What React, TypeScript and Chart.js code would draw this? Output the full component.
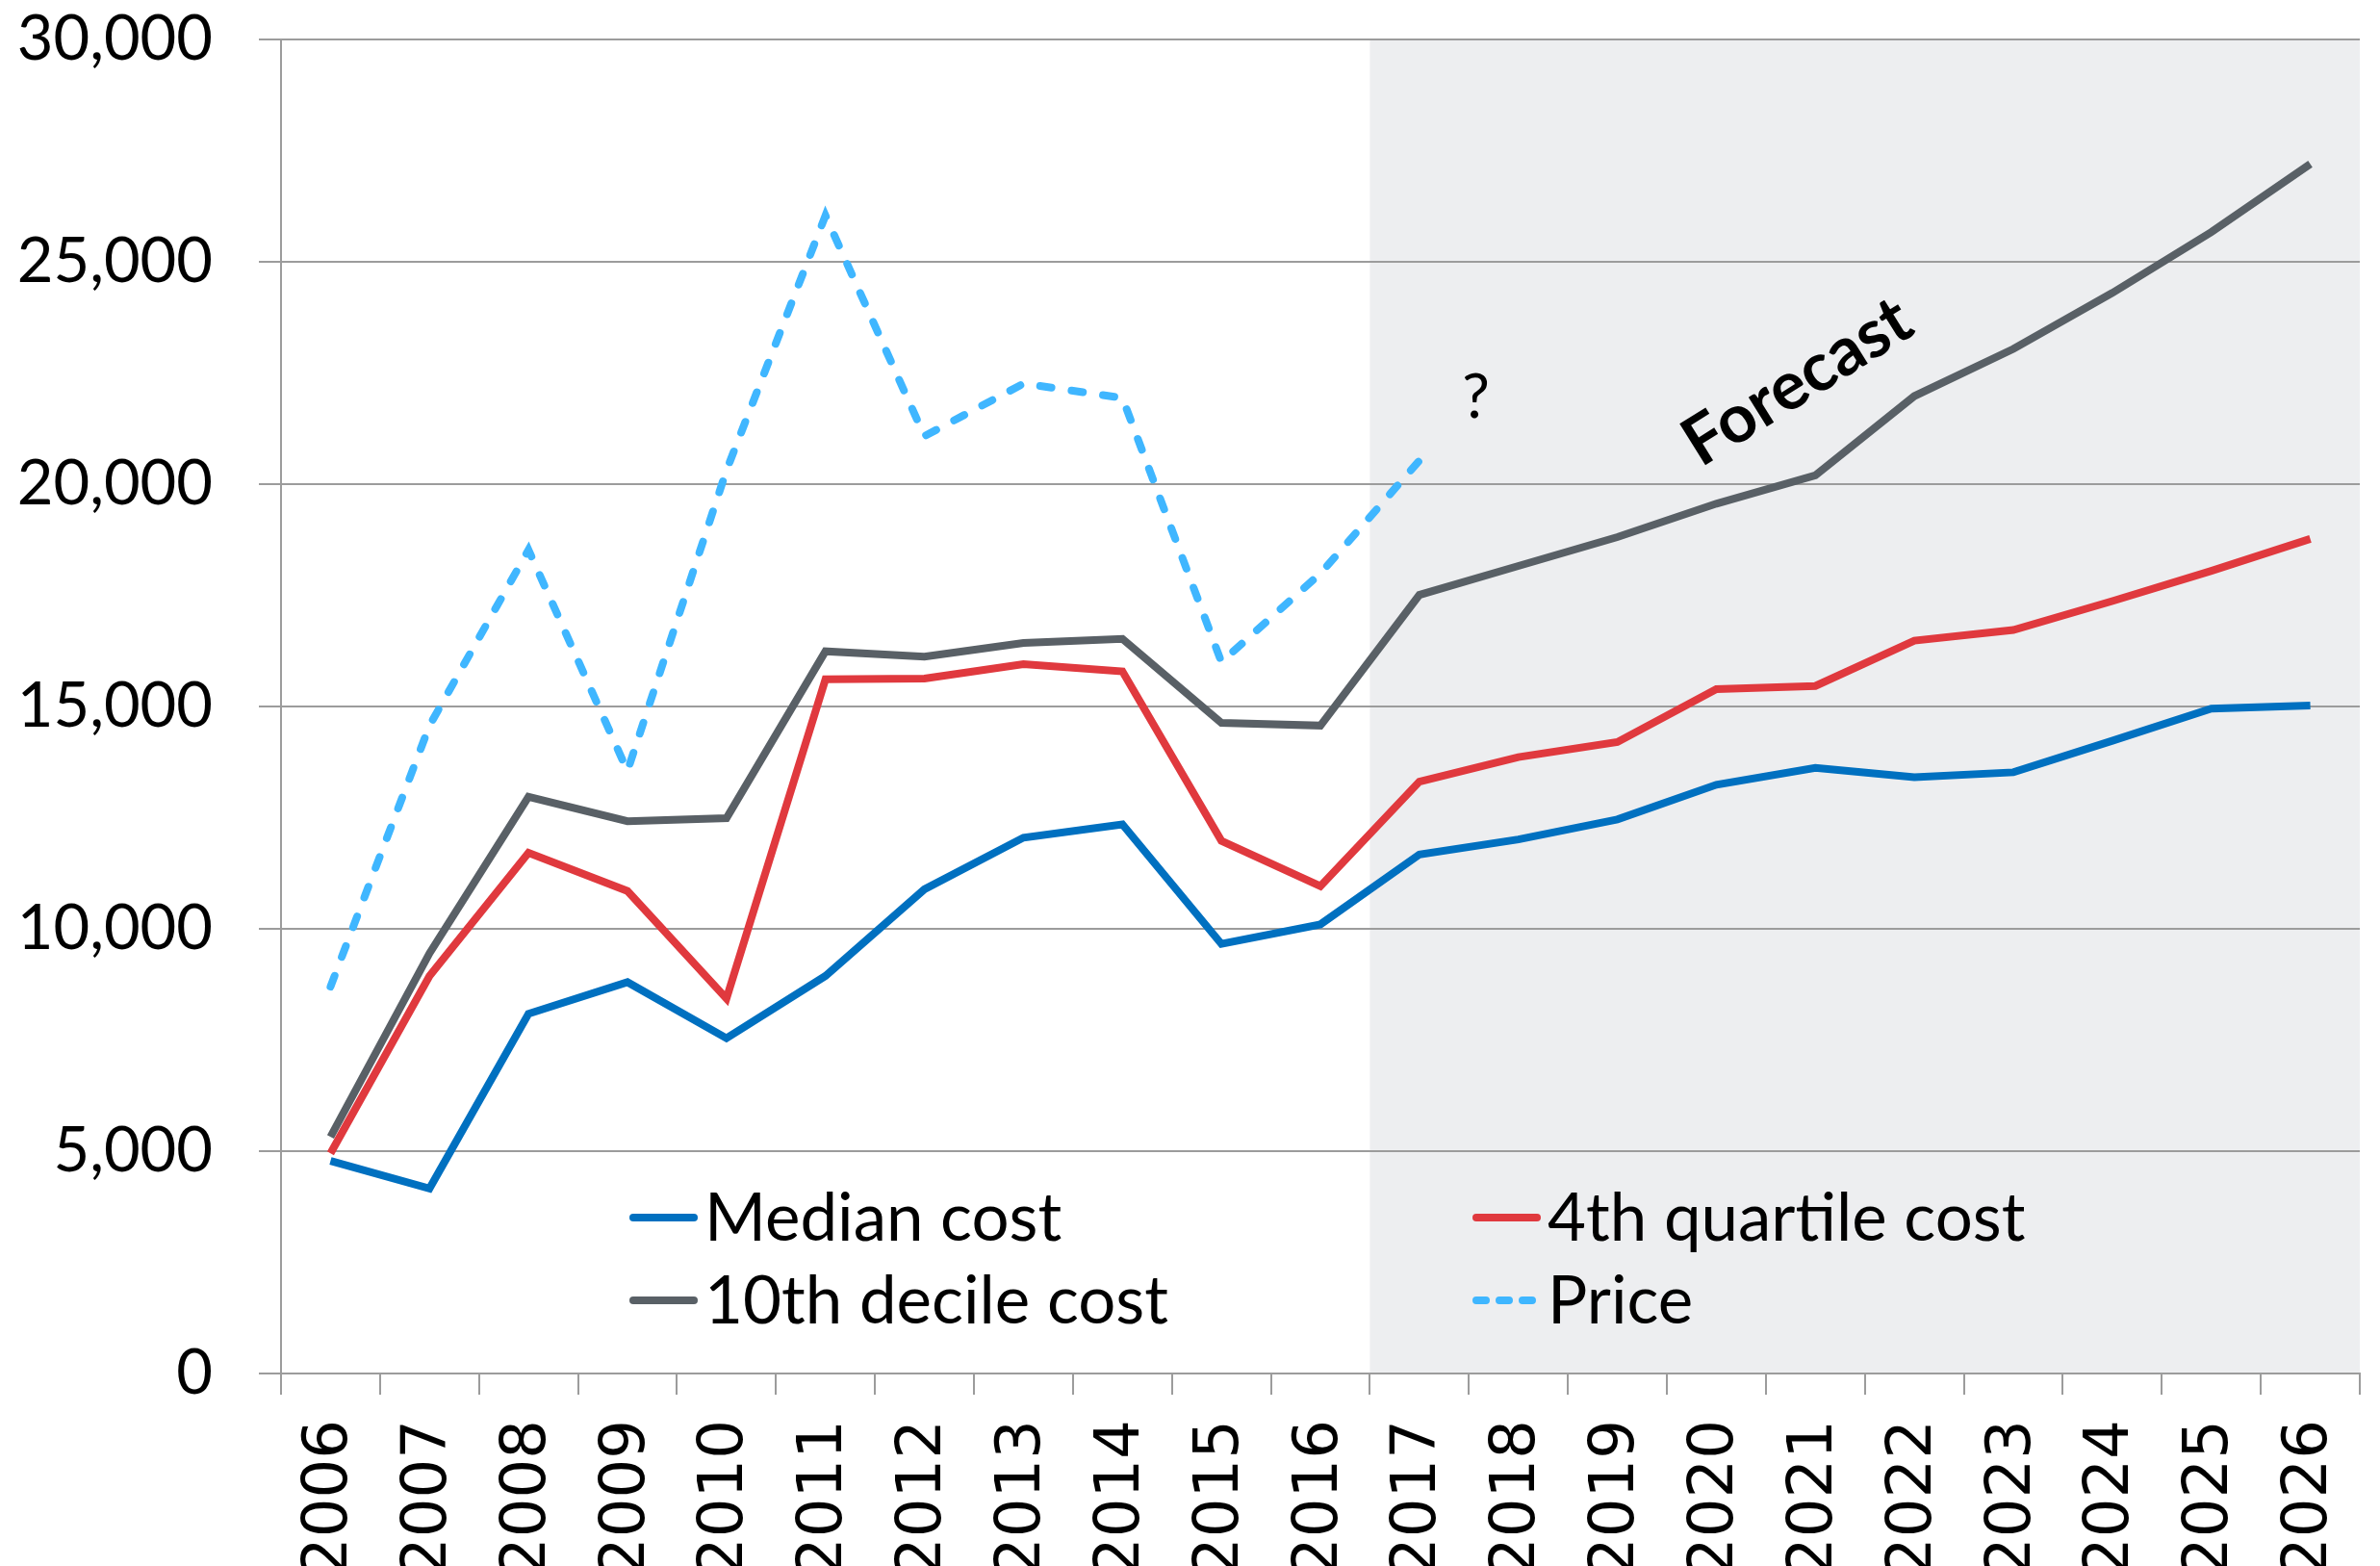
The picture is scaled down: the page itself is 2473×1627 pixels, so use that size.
import React, { useEffect, useRef } from 'react';
import { Chart, registerables } from 'chart.js';

Chart.register(...registerables);

const years = ['2006', '2007', '2008', '2009', '2010', '2011', '2012', '2013', '2014', '2015', '2016',
  '2017', '2018', '2019', '2020', '2021', '2022', '2023', '2024', '2025', '2026'];

const medianCost = [4780, 4160, 8090, 8800, 7540, 8940, 10890, 12050, 12350, 9660, 10100,
  11670, 12010, 12460, 13240, 13620, 13410, 13520, 14230, 14950, 15020];

const quartile4Cost = [4950, 8940, 11710, 10850, 8430, 15610, 15630, 15950, 15790, 11980, 10960,
  13310, 13860, 14200, 15390, 15460, 16480, 16720, 17370, 18050, 18770];

const decile10Cost = [5320, 9450, 12970, 12420, 12490, 16240, 16120, 16430, 16520, 14630, 14570,
  17510, 18160, 18810, 19560, 20200, 21980, 23040, 24300, 25670, 27200];

const price: (number | null)[] = [8700, 14570, 18520, 13550, 20310, 26040, 21080, 22260, 21940, 16000, 17990,
  20530, null, null, null, null, null, null, null, null, null];

const seriesNames = ['Median cost', '4th quartile cost', '10th decile cost', 'Price'];
const forecastStartIndex = 11;
const yTicks = [0, 5000, 10000, 15000, 20000, 25000, 30000];

const COLORS = {
  median: '#0070C0',
  q4: '#E0393E',
  d10: '#596066',
  price: '#3FB6FF',
  grid: '#9C9C9C',
  shade: '#EDEEF0',
};

const PRICE_DASH = [12, 21];

export default function App() {
  const ref = useRef<HTMLCanvasElement | null>(null);

  useEffect(() => {
    document.body.style.margin = '0';
    document.body.style.overflow = 'hidden';

    const shadePlugin = {
      id: 'forecastShade',
      beforeDraw(chart: any) {
        const { ctx, chartArea, scales } = chart;
        const xs = scales.x;
        const half = (xs.getPixelForValue(1) - xs.getPixelForValue(0)) / 2;
        const x0 = xs.getPixelForValue(forecastStartIndex) - half;
        ctx.save();
        ctx.fillStyle = COLORS.shade;
        ctx.fillRect(x0, chartArea.top, chartArea.right - x0, chartArea.bottom - chartArea.top);
        ctx.restore();
      },
    };

    const annotationPlugin = {
      id: 'annotations',
      afterDraw(chart: any) {
        const { ctx, scales } = chart;
        const xs = scales.x;
        const ys = scales.y;
        const step = xs.getPixelForValue(1) - xs.getPixelForValue(0);
        ctx.save();
        ctx.fillStyle = '#000';
        ctx.font = 'bold 70px Lato';
        ctx.textAlign = 'center';
        ctx.textBaseline = 'middle';
        ctx.translate(xs.getPixelForValue(14) + 0.82 * step, ys.getPixelForValue(22300));
        ctx.rotate(-32 * Math.PI / 180);
        ctx.fillText('Forecast', 0, 0);
        ctx.restore();

        ctx.save();
        ctx.fillStyle = '#000';
        ctx.font = '64px Lato';
        ctx.textAlign = 'center';
        ctx.textBaseline = 'middle';
        ctx.fillText('?', xs.getPixelForValue(11) + 0.57 * step, ys.getPixelForValue(21950));
        ctx.restore();

        // Legend (2 x 2, inside the plot)
        const ds = chart.data.datasets;
        const cols = [654, 1530];
        const rows = [1265, 1351];
        ds.forEach((d: any, k: number) => {
          const x = cols[k % 2];
          const y = rows[Math.floor(k / 2)];
          ctx.save();
          ctx.strokeStyle = d.borderColor;
          ctx.lineWidth = 8;
          ctx.lineCap = 'round';
          ctx.setLineDash(d.borderDash ? [10, 14] : []);
          ctx.beginPath();
          ctx.moveTo(x + 4, y);
          ctx.lineTo(x + 67, y);
          ctx.stroke();
          ctx.setLineDash([]);
          ctx.fillStyle = '#000';
          ctx.font = '69px Lato';
          ctx.textAlign = 'left';
          ctx.textBaseline = 'middle';
          ctx.fillText(d.label, x + 78, y + 2);
          ctx.restore();
        });
      },
    };

    const chart = new Chart(ref.current as HTMLCanvasElement, {
      type: 'line',
      data: {
        labels: years,
        datasets: [
          { label: seriesNames[0], data: medianCost, borderColor: COLORS.median, backgroundColor: COLORS.median, borderWidth: 8, pointRadius: 0, tension: 0 },
          { label: seriesNames[1], data: quartile4Cost, borderColor: COLORS.q4, backgroundColor: COLORS.q4, borderWidth: 8, pointRadius: 0, tension: 0 },
          { label: seriesNames[2], data: decile10Cost, borderColor: COLORS.d10, backgroundColor: COLORS.d10, borderWidth: 8, pointRadius: 0, tension: 0 },
          { label: seriesNames[3], data: price, borderColor: COLORS.price, backgroundColor: COLORS.price, borderWidth: 8, pointRadius: 0, tension: 0, borderDash: PRICE_DASH, borderCapStyle: 'round', spanGaps: false },
        ],
      },
      options: {
        responsive: false,
        animation: false,
        devicePixelRatio: 1,
        layout: { padding: { top: 41, right: 21, bottom: 0, left: 0 } },
        plugins: {
          legend: { display: false },
          tooltip: { enabled: false },
        },
        scales: {
          x: {
            type: 'category',
            offset: true,
            grid: {
              offset: true,
              drawOnChartArea: false,
              drawTicks: true,
              tickLength: 22,
              color: COLORS.grid,
              lineWidth: 2,
            },
            border: { display: true, color: COLORS.grid, width: 2 },
            ticks: {
              minRotation: 90,
              maxRotation: 90,
              autoSkip: false,
              padding: 26,
              color: '#000',
              font: { family: 'DejaVu Sans', size: 64 },
            },
            afterFit: (scale: any) => {
              scale.height = 200;
              scale.paddingLeft = 0;
              scale.paddingRight = 0;
              scale.paddingTop = 0;
              scale.paddingBottom = 0;
            },
          },
          y: {
            min: 0,
            max: 30000,
            afterBuildTicks: (scale: any) => { scale.ticks = yTicks.map((v) => ({ value: v })); },
            grid: {
              color: COLORS.grid,
              lineWidth: 2,
              drawTicks: true,
              tickLength: 23,
            },
            border: { display: true, color: COLORS.grid, width: 2 },
            ticks: {
              padding: 48,
              color: '#000',
              font: { family: 'Lato', size: 65 },
              callback: (v: any) => Number(v).toLocaleString('en-US'),
            },
            afterFit: (scale: any) => {
              scale.width = 292;
              scale.paddingLeft = 0;
              scale.paddingRight = 0;
              scale.paddingTop = 0;
              scale.paddingBottom = 0;
            },
          },
        },
      },
      plugins: [shadePlugin, annotationPlugin],
    } as any);

    return () => chart.destroy();
  }, []);

  return (
    <div style={{ position: 'fixed', left: 0, top: 0, width: 2473, height: 1627, background: '#fff' }}>
      <canvas ref={ref} width={2473} height={1627} style={{ width: 2473, height: 1627, display: 'block' }} />
    </div>
  );
}
